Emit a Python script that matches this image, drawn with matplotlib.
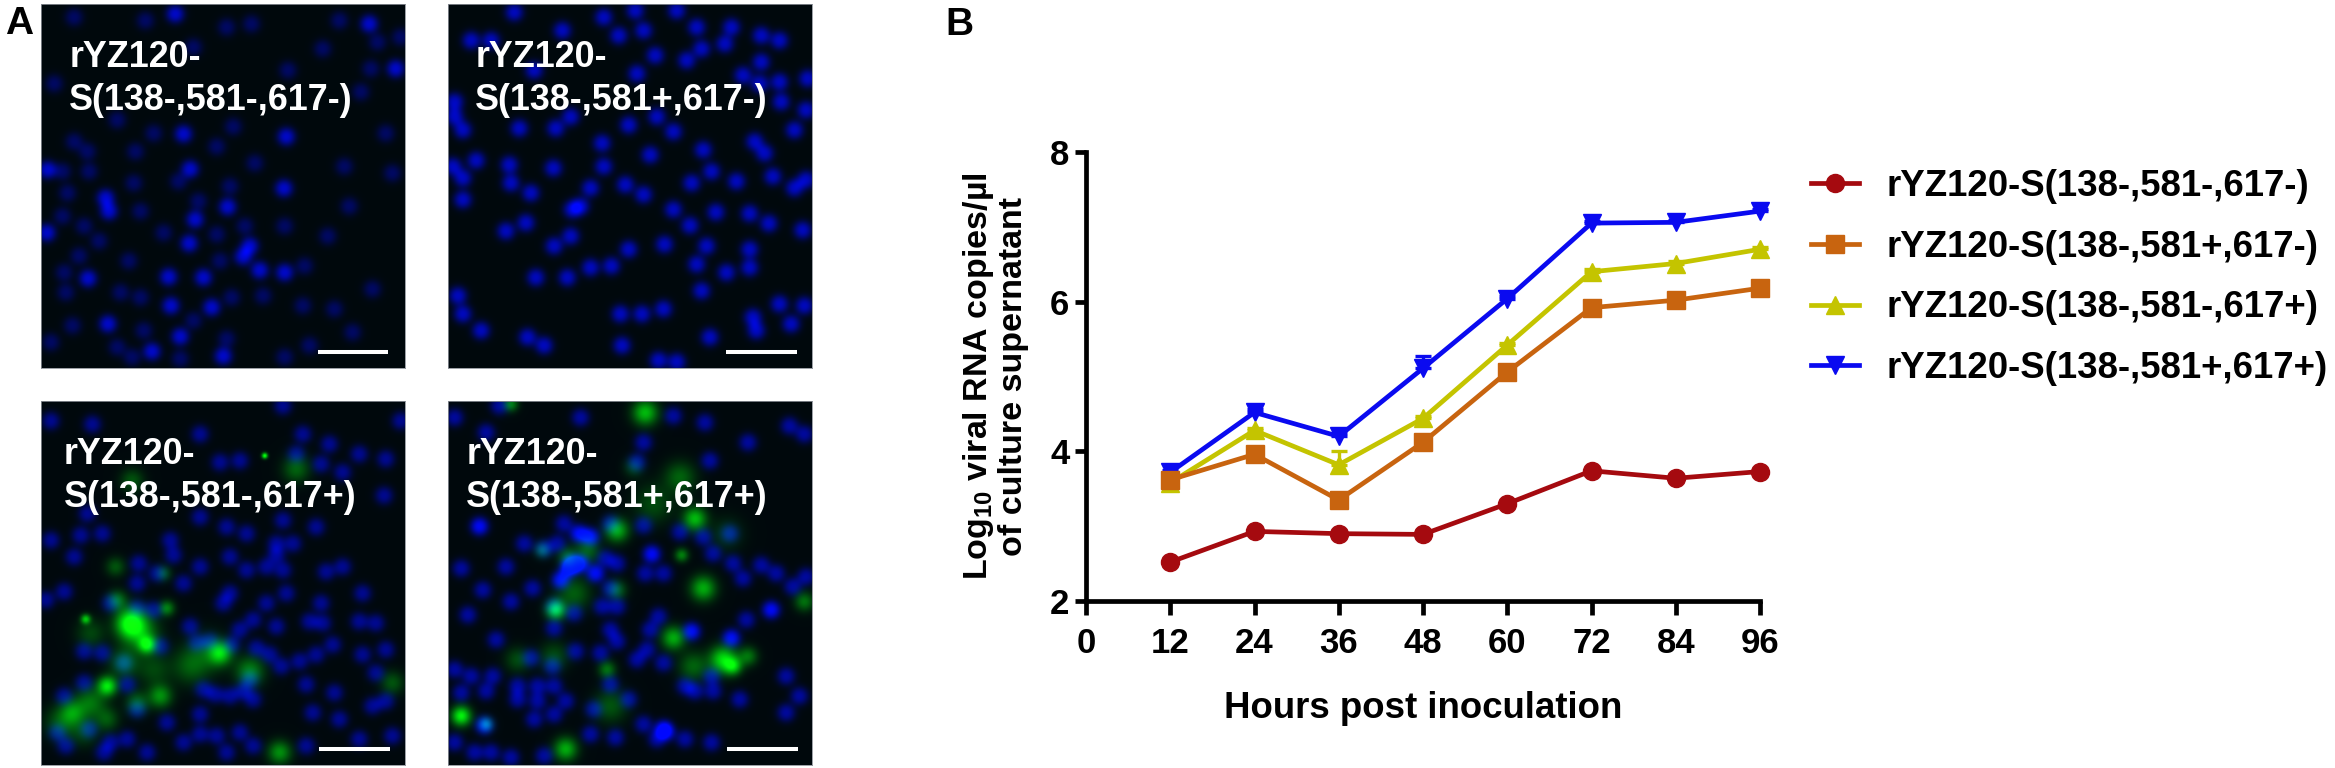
import numpy as np
import matplotlib
matplotlib.use("Agg")
import matplotlib.pyplot as plt

plt.rcParams["font.family"] = ["Liberation Sans", "DejaVu Sans"]
plt.rcParams["font.weight"] = "bold"
plt.rcParams["axes.labelweight"] = "bold"
plt.rcParams["mathtext.fontset"] = "custom"
plt.rcParams["mathtext.bf"] = "Liberation Sans:bold"
plt.rcParams["mathtext.rm"] = "Liberation Sans:bold"
plt.rcParams["mathtext.default"] = "bf"

# growth curves
hours = [12, 24, 36, 48, 60, 72, 84, 96]
red_vals = [2.52, 2.93, 2.90, 2.89, 3.30, 3.74, 3.64, 3.73]
orange_vals = [3.62, 3.96, 3.35, 4.12, 5.06, 5.92, 6.02, 6.18]
olive_vals = [3.58, 4.28, 3.82, 4.44, 5.42, 6.40, 6.51, 6.70]
blue_vals = [3.72, 4.52, 4.20, 5.11, 6.04, 7.05, 7.06, 7.21]
olive_err = [0.08, 0.03, 0.18, 0.03, 0.03, 0.03, 0.03, 0.03]
blue_err = [0.03, 0.05, 0.05, 0.17, 0.03, 0.03, 0.03, 0.03]

x_ticks = [0, 12, 24, 36, 48, 60, 72, 84, 96]
y_ticks = [2, 4, 6, 8]

names = ["rYZ120-S(138-,581-,617-)", "rYZ120-S(138-,581+,617-)",
         "rYZ120-S(138-,581-,617+)", "rYZ120-S(138-,581+,617+)"]

# micrograph panels: nuclei and green foci, in a 1098 wide frame
p1_bright_x = [18, 660, 735, 610, 420, 202, 1070, 990, 405, 20, 335, 550, 515, 392, 563, 733, 447, 465, 630, 142, 385, 490, 740, 430, 450, 205, 195]
p1_bright_y = [690, 803, 810, 762, 1003, 965, 195, 60, 30, 500, 1048, 1062, 915, 910, 612, 556, 722, 650, 730, 828, 823, 825, 400, 392, 498, 625, 585]
p1_dim_x = [100, 315, 560, 635, 900, 1015, 850, 745, 995, 965, 460, 40, 230, 340, 580, 100, 140, 285, 530, 645, 915, 1060, 65, 145, 280, 415, 570, 80, 475, 300, 65, 130, 370, 530, 615, 735, 865, 930, 175, 115, 265, 540, 795, 70, 1000, 75, 240, 300, 575, 670, 790, 885, 95, 460, 310, 560, 230, 810, 940, 275, 420, 735, 30, 1040, 1085]
p1_dim_y = [40, 50, 70, 60, 50, 115, 135, 200, 195, 265, 130, 240, 350, 390, 370, 415, 445, 445, 430, 480, 490, 510, 505, 505, 540, 535, 550, 570, 595, 625, 640, 670, 690, 695, 670, 670, 700, 610, 715, 760, 775, 775, 790, 810, 860, 870, 870, 885, 885, 880, 910, 920, 970, 955, 985, 1010, 1035, 1030, 990, 1065, 1070, 1065, 1020, 390, 100]

p2_bright_x = [910, 653, 493, 318, 630, 680, 1080, 980, 870, 795, 735, 680, 808, 730, 968, 1070, 375, 400, 320, 370, 175, 235, 590, 535, 470, 250, 190, 85, 185, 840, 765, 750, 910, 910, 780, 1000, 1075, 650, 585, 520, 1035, 930, 920, 525, 290, 240, 100, 360, 265, 430, 545, 635, 690, 790, 45, 215, 325, 545, 200, 345, 470, 515, 565, 590, 690, 750, 855, 945, 1000, 765, 835, 625, 720, 945, 570, 890, 1000, 940, 1005, 20, 20, 1080, 370, 1045, 925, 955, 770, 610, 465, 15, 45, 45, 430, 1045, 30, 45, 130, 70, 260, 1085]
p2_bright_y = [632, 725, 790, 495, 340, 385, 530, 520, 535, 505, 540, 620, 628, 668, 662, 682, 620, 610, 730, 700, 685, 660, 575, 545, 490, 570, 540, 472, 485, 810, 865, 785, 740, 795, 730, 905, 910, 920, 935, 935, 965, 985, 945, 1030, 1030, 1005, 985, 825, 825, 795, 740, 1075, 1080, 1005, 380, 375, 375, 365, 25, 80, 40, 95, 20, 80, 20, 70, 70, 95, 110, 135, 120, 155, 170, 175, 210, 215, 235, 240, 295, 295, 340, 320, 340, 380, 415, 450, 440, 455, 420, 490, 525, 590, 555, 555, 880, 935, 110, 110, 200, 225]

p3_nuc_x = [30, 155, 730, 1085, 480, 790, 870, 770, 960, 600, 1040, 845, 910, 1035, 540, 140, 480, 560, 620, 730, 830, 30, 120, 185, 390, 710, 760, 710, 400, 570, 100, 295, 480, 680, 730, 860, 910, 350, 620, 290, 430, 570, 740, 70, 15, 550, 680, 845, 970, 290, 210, 340, 810, 960, 640, 710, 1010, 450, 600, 850, 130, 185, 360, 470, 510, 575, 650, 880, 830, 970, 1040, 690, 250, 780, 1010, 630, 490, 525, 570, 610, 800, 885, 725, 70, 260, 130, 640, 820, 900, 1000, 1040, 480, 290, 600, 530, 480, 430, 210, 145, 75, 50, 320, 260, 800, 960, 1060, 640, 560, 190, 380]
p3_nuc_y = [60, 70, 15, 60, 100, 100, 130, 160, 160, 180, 175, 190, 215, 285, 185, 340, 350, 380, 400, 360, 380, 420, 405, 400, 420, 430, 430, 465, 465, 470, 470, 490, 500, 500, 510, 515, 500, 520, 510, 550, 550, 580, 580, 575, 600, 610, 610, 610, 580, 625, 610, 630, 665, 665, 660, 680, 670, 680, 690, 670, 755, 760, 740, 730, 725, 735, 745, 735, 765, 765, 750, 765, 790, 785, 820, 840, 870, 885, 890, 875, 855, 880, 800, 890, 855, 850, 900, 940, 960, 920, 905, 945, 930, 1000, 1010, 1005, 1030, 1030, 990, 1040, 1000, 1060, 1020, 1040, 1020, 1010, 1040, 1060, 1060, 970]
p3_green_x = [270, 320, 200, 135, 300, 380, 230, 225, 370, 540, 630, 360, 290, 95, 150, 60, 250, 340, 450, 720, 770, 675, 275, 1060, 500, 200, 150, 130]
p3_green_y = [670, 735, 860, 658, 700, 625, 600, 500, 520, 760, 815, 890, 910, 940, 910, 970, 790, 810, 800, 1060, 205, 165, 240, 850, 760, 960, 700, 1000]
p3_green_size = [30, 18, 20, 10, 38, 16, 20, 20, 16, 24, 30, 24, 24, 26, 32, 34, 30, 34, 38, 24, 28, 6, 24, 24, 42, 24, 30, 30]
p3_green_amp = [0.85, 0.7, 0.75, 0.6, 0.4, 0.4, 0.35, 0.25, 0.25, 0.65, 0.4, 0.45, 0.3, 0.4, 0.35, 0.25, 0.3, 0.2, 0.25, 0.45, 0.3, 0.9, 0.25, 0.25, 0.2, 0.25, 0.2, 0.18]

p4_bright_x = [95, 430, 395, 365, 340, 400, 445, 375, 855, 735, 975, 615, 110, 650]
p4_bright_y = [378, 410, 400, 505, 540, 490, 520, 490, 715, 695, 630, 462, 978, 990]
p4_nuc_x = [175, 155, 20, 400, 680, 775, 1030, 115, 590, 905, 790, 1075, 570, 350, 490, 590, 700, 770, 850, 230, 290, 330, 475, 510, 800, 40, 860, 945, 595, 650, 890, 990, 1080, 105, 255, 490, 1040, 190, 320, 380, 465, 510, 60, 635, 900, 320, 490, 510, 145, 610, 600, 385, 460, 570, 650, 250, 315, 70, 135, 270, 320, 490, 210, 20, 795, 715, 745, 800, 40, 115, 1020, 1060, 880, 210, 270, 355, 545, 260, 320, 440, 590, 660, 630, 795, 505, 430, 20, 80, 130, 190, 290, 715, 1020]
p4_nuc_y = [500, 15, 50, 50, 45, 65, 75, 95, 125, 125, 180, 100, 185, 370, 370, 375, 395, 410, 400, 430, 445, 430, 475, 490, 460, 505, 490, 495, 520, 520, 535, 520, 530, 570, 565, 565, 560, 605, 620, 640, 620, 620, 645, 650, 660, 685, 690, 725, 720, 690, 750, 755, 760, 780, 790, 775, 800, 830, 830, 860, 860, 855, 860, 810, 830, 860, 875, 875, 880, 875, 830, 890, 900, 900, 905, 905, 900, 960, 945, 930, 975, 1000, 1020, 1030, 1015, 1005, 1030, 1060, 1060, 1075, 1070, 1020, 940]
p4_green_x = [595, 190, 700, 745, 510, 620, 705, 770, 325, 360, 420, 510, 380, 285, 680, 830, 860, 905, 740, 210, 320, 480, 490, 40, 355, 1075, 840, 560, 115]
p4_green_y = [35, 10, 230, 355, 390, 310, 465, 565, 630, 470, 450, 570, 580, 450, 715, 780, 800, 770, 800, 780, 770, 810, 920, 950, 1050, 605, 400, 200, 975]
p4_green_size = [26, 15, 32, 24, 24, 40, 14, 26, 20, 20, 26, 20, 34, 16, 24, 28, 18, 20, 30, 26, 30, 18, 34, 20, 24, 20, 34, 20, 14]
p4_green_amp = [0.6, 0.4, 0.3, 0.6, 0.55, 0.22, 0.4, 0.55, 0.7, 0.3, 0.3, 0.3, 0.28, 0.3, 0.55, 0.7, 0.55, 0.35, 0.3, 0.22, 0.22, 0.35, 0.25, 0.8, 0.55, 0.35, 0.15, 0.2, 0.4]

W, H = 2335, 768
FRAME = 1098


def add_nuclei(field, grid_x, grid_y, xs, ys, amp):
    for x, y in zip(xs, ys):
        r2 = ((grid_x - x) ** 2 + (grid_y - y) ** 2) / 27.0 ** 2
        field += amp * np.exp(-r2 ** 1.2)


def add_green(field, grid_x, grid_y, xs, ys, sizes, amps):
    for x, y, s, a in zip(xs, ys, sizes, amps):
        field += a * np.exp(-((grid_x - x) ** 2 + (grid_y - y) ** 2) / (2.0 * s ** 2))


def panel(left, top, lines, text_x, bar_x, nuclei, green=None):
    ax = fig.add_axes([left / W, 1 - (top + 364) / H, 364 / W, 364 / H])
    pts = (np.arange(366) + 0.5) * 3
    grid_x, grid_y = np.meshgrid(pts, pts)
    blue = np.zeros_like(grid_x)
    for xs, ys, amp in nuclei:
        add_nuclei(blue, grid_x, grid_y, xs, ys, amp)
    glow = np.zeros_like(grid_x)
    if green is not None:
        add_green(glow, grid_x, grid_y, *green)
    img = np.zeros((366, 366, 3))
    img[..., 0] = 0.15 * np.clip(glow - 0.7, 0, 1)
    img[..., 1] = 0.035 + 1.15 * np.clip(glow, 0, 1)
    img[..., 2] = 0.05 + np.clip(blue, 0, 0.95) * (1 - 0.25 * np.clip(glow, 0, 1))
    ax.imshow(np.clip(img, 0, 1), extent=(0, FRAME, FRAME, 0), interpolation="bilinear")
    ax.set_xlim(0, FRAME)
    ax.set_ylim(FRAME, 0)
    ax.set_xticks([])
    ax.set_yticks([])
    for spine in ax.spines.values():
        spine.set_color("#8a8f96")
        spine.set_linewidth(0.6)
    ax.text(text_x, 190, lines[0], color="white", fontsize=25.8)
    ax.text(text_x, 320, lines[1], color="white", fontsize=25.8)
    ax.plot(bar_x, [1050, 1050], color="white", lw=2.9, solid_capstyle="butt")


fig = plt.figure(figsize=(W / 100, H / 100), dpi=100)
fig.patch.set_facecolor("white")

panel(41, 4, ["rYZ120-", "S(138-,581-,617-)"], 85, [835, 1046],
      [(p1_bright_x, p1_bright_y, 0.72), (p1_dim_x, p1_dim_y, 0.33)])
panel(448, 4, ["rYZ120-", "S(138-,581+,617-)"], 82, [840, 1052],
      [(p2_bright_x, p2_bright_y, 0.68)])
panel(41, 401, ["rYZ120-", "S(138-,581-,617+)"], 68, [840, 1052],
      [(p3_nuc_x, p3_nuc_y, 0.5)],
      (p3_green_x, p3_green_y, p3_green_size, p3_green_amp))
panel(448, 401, ["rYZ120-", "S(138-,581+,617+)"], 55, [843, 1055],
      [(p4_bright_x, p4_bright_y, 0.9), (p4_nuc_x, p4_nuc_y, 0.55)],
      (p4_green_x, p4_green_y, p4_green_size, p4_green_amp))

fig.text(5 / W, 1 - 34 / H, "A", fontsize=28, color="black")
fig.text(945 / W, 1 - 35 / H, "B", fontsize=28, color="black")

# line chart
ax = fig.add_axes([1086 / W, 1 - 601 / H, 674 / W, 449 / H])
line_style = dict(lw=3.4, ms=13, clip_on=False, capsize=6, capthick=2.4, elinewidth=2.4)
no_err = [0] * len(hours)
h_blue = ax.errorbar(hours, blue_vals, yerr=[no_err, blue_err], color="#0a0af0", marker="v", **line_style)
h_olive = ax.errorbar(hours, olive_vals, yerr=[no_err, olive_err], color="#c4c400", marker="^", **line_style)
h_orange = ax.errorbar(hours, orange_vals, color="#c8640f", marker="s", **line_style)
h_red = ax.errorbar(hours, red_vals, color="#a50a0f", marker="o", **line_style)

ax.set_xlim(0, 96)
ax.set_ylim(2, 8)
ax.set_xticks(x_ticks)
ax.set_yticks(y_ticks)
ax.spines["top"].set_visible(False)
ax.spines["right"].set_visible(False)
ax.spines["left"].set_linewidth(3.4)
ax.spines["bottom"].set_linewidth(3.4)
ax.tick_params(axis="x", width=3.4, length=10, labelsize=25, pad=9)
ax.tick_params(axis="y", width=3.4, length=8, labelsize=25, pad=4)
ax.set_xlabel("Hours post inoculation", fontsize=26.4, labelpad=22)
ax.set_ylabel("Log$_{10}$ viral RNA copies/µl\nof culture supernatant", fontsize=24.5, labelpad=15, linespacing=1.1)

fig.legend([h_red[0], h_orange[0], h_olive[0], h_blue[0]], names, loc="upper left",
           bbox_to_anchor=(1811 / W, 1 - 169 / H), frameon=False, fontsize=26.4,
           borderpad=0, borderaxespad=0, handlelength=1.31, handletextpad=0.76,
           labelspacing=0.7)

fig.savefig("out.png", dpi=100)
